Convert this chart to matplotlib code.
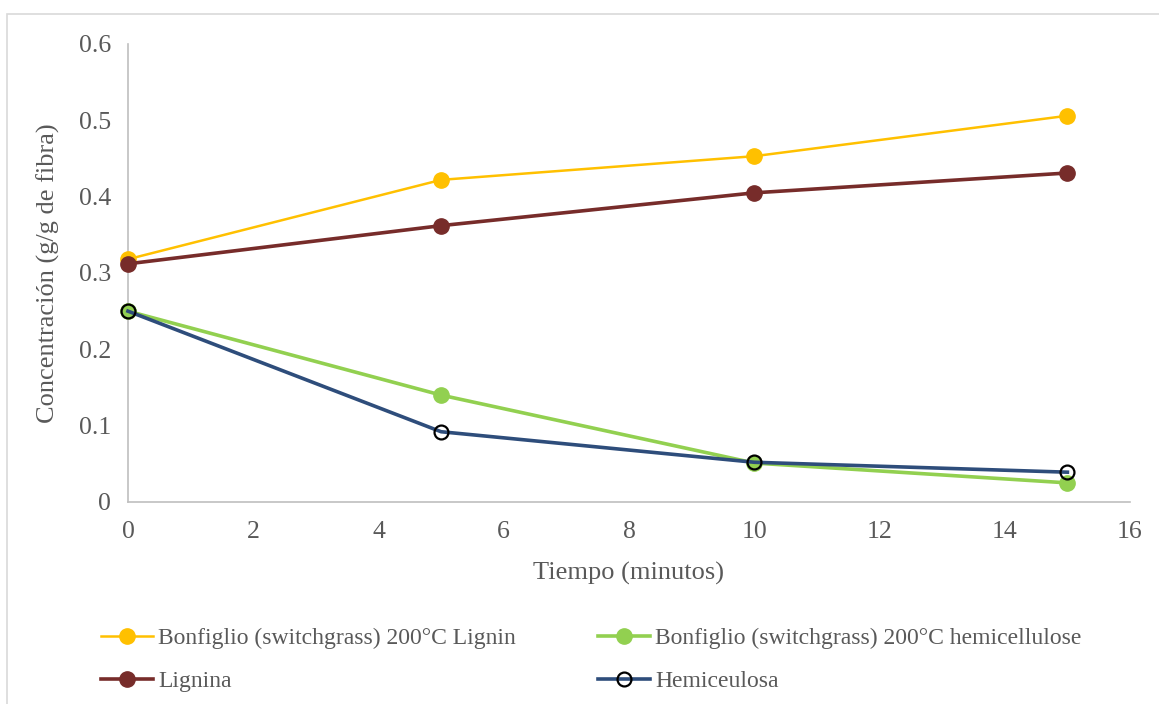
import matplotlib.pyplot as plt
from matplotlib.patches import Rectangle

plt.rcParams['font.family'] = ['Liberation Serif', 'DejaVu Serif']

# Time points (minutes) and concentrations (g/g de fibra)
tiempo = [0, 5, 10, 15]
bonfiglio_lignin = [0.318, 0.422, 0.453, 0.506]
bonfiglio_hemi = [0.250, 0.140, 0.051, 0.025]
lignina = [0.312, 0.362, 0.405, 0.431]
hemiceulosa = [0.250, 0.092, 0.052, 0.039]

x_ticks = [0, 2, 4, 6, 8, 10, 12, 14, 16]
y_ticks = [0, 0.1, 0.2, 0.3, 0.4, 0.5, 0.6]
y_labels = ['0', '0.1', '0.2', '0.3', '0.4', '0.5', '0.6']

fig = plt.figure(figsize=(11.59, 7.04), dpi=100)
ax = fig.add_axes([0.1104, 0.287, 0.8646, 0.6505])

# light frame around the chart area
fig.patches.append(Rectangle((7 / 1159, -0.01), 1.02, (704 - 14) / 704 + 0.01,
                             transform=fig.transFigure, fill=False,
                             edgecolor='#D9D9D9', linewidth=1.2))

l1, = ax.plot(tiempo, bonfiglio_lignin, color='#FFC000', lw=1.8, marker='o',
              ms=11, label='Bonfiglio (switchgrass) 200°C Lignin')
l2, = ax.plot(tiempo, bonfiglio_hemi, color='#92D050', lw=2.6, marker='o',
              ms=11, label='Bonfiglio (switchgrass) 200°C hemicellulose')
l3, = ax.plot(tiempo, lignina, color='#772C2A', lw=2.6, marker='o',
              ms=11, label='Lignina')
l4, = ax.plot(tiempo, hemiceulosa, color='#2E4D7B', lw=2.6, marker='o',
              ms=10, mfc='none', mec='black', mew=1.6, label='Hemiceulosa')

ax.set_xlim(0, 16)
ax.set_ylim(0, 0.6)
ax.set_xticks(x_ticks)
ax.set_yticks(y_ticks)
ax.set_yticklabels(y_labels)
ax.tick_params(length=0, labelsize=18.5, colors='#595959')
ax.tick_params(axis='x', pad=14)
ax.tick_params(axis='y', pad=12)
for side in ['top', 'right']:
    ax.spines[side].set_visible(False)
for side in ['left', 'bottom']:
    ax.spines[side].set_color('#BFBFBF')
    ax.spines[side].set_linewidth(1.2)
    ax.spines[side].set_zorder(0)
for ln in [l1, l2, l3, l4]:
    ln.set_clip_on(False)

ax.set_xlabel('Tiempo (minutos)', fontsize=19, color='#595959', labelpad=13)
ax.set_ylabel('Concentración (g/g de fibra)', fontsize=19, color='#595959', labelpad=14)

fig.legend(handles=[l1, l3, l2, l4], ncol=2, loc='lower left',
           bbox_to_anchor=(0.069, -0.013), frameon=False, fontsize=17,
           labelcolor='#595959', handlelength=2.2, handletextpad=0.2,
           columnspacing=3.5, labelspacing=0.9)

plt.savefig('out.png', dpi=100)
